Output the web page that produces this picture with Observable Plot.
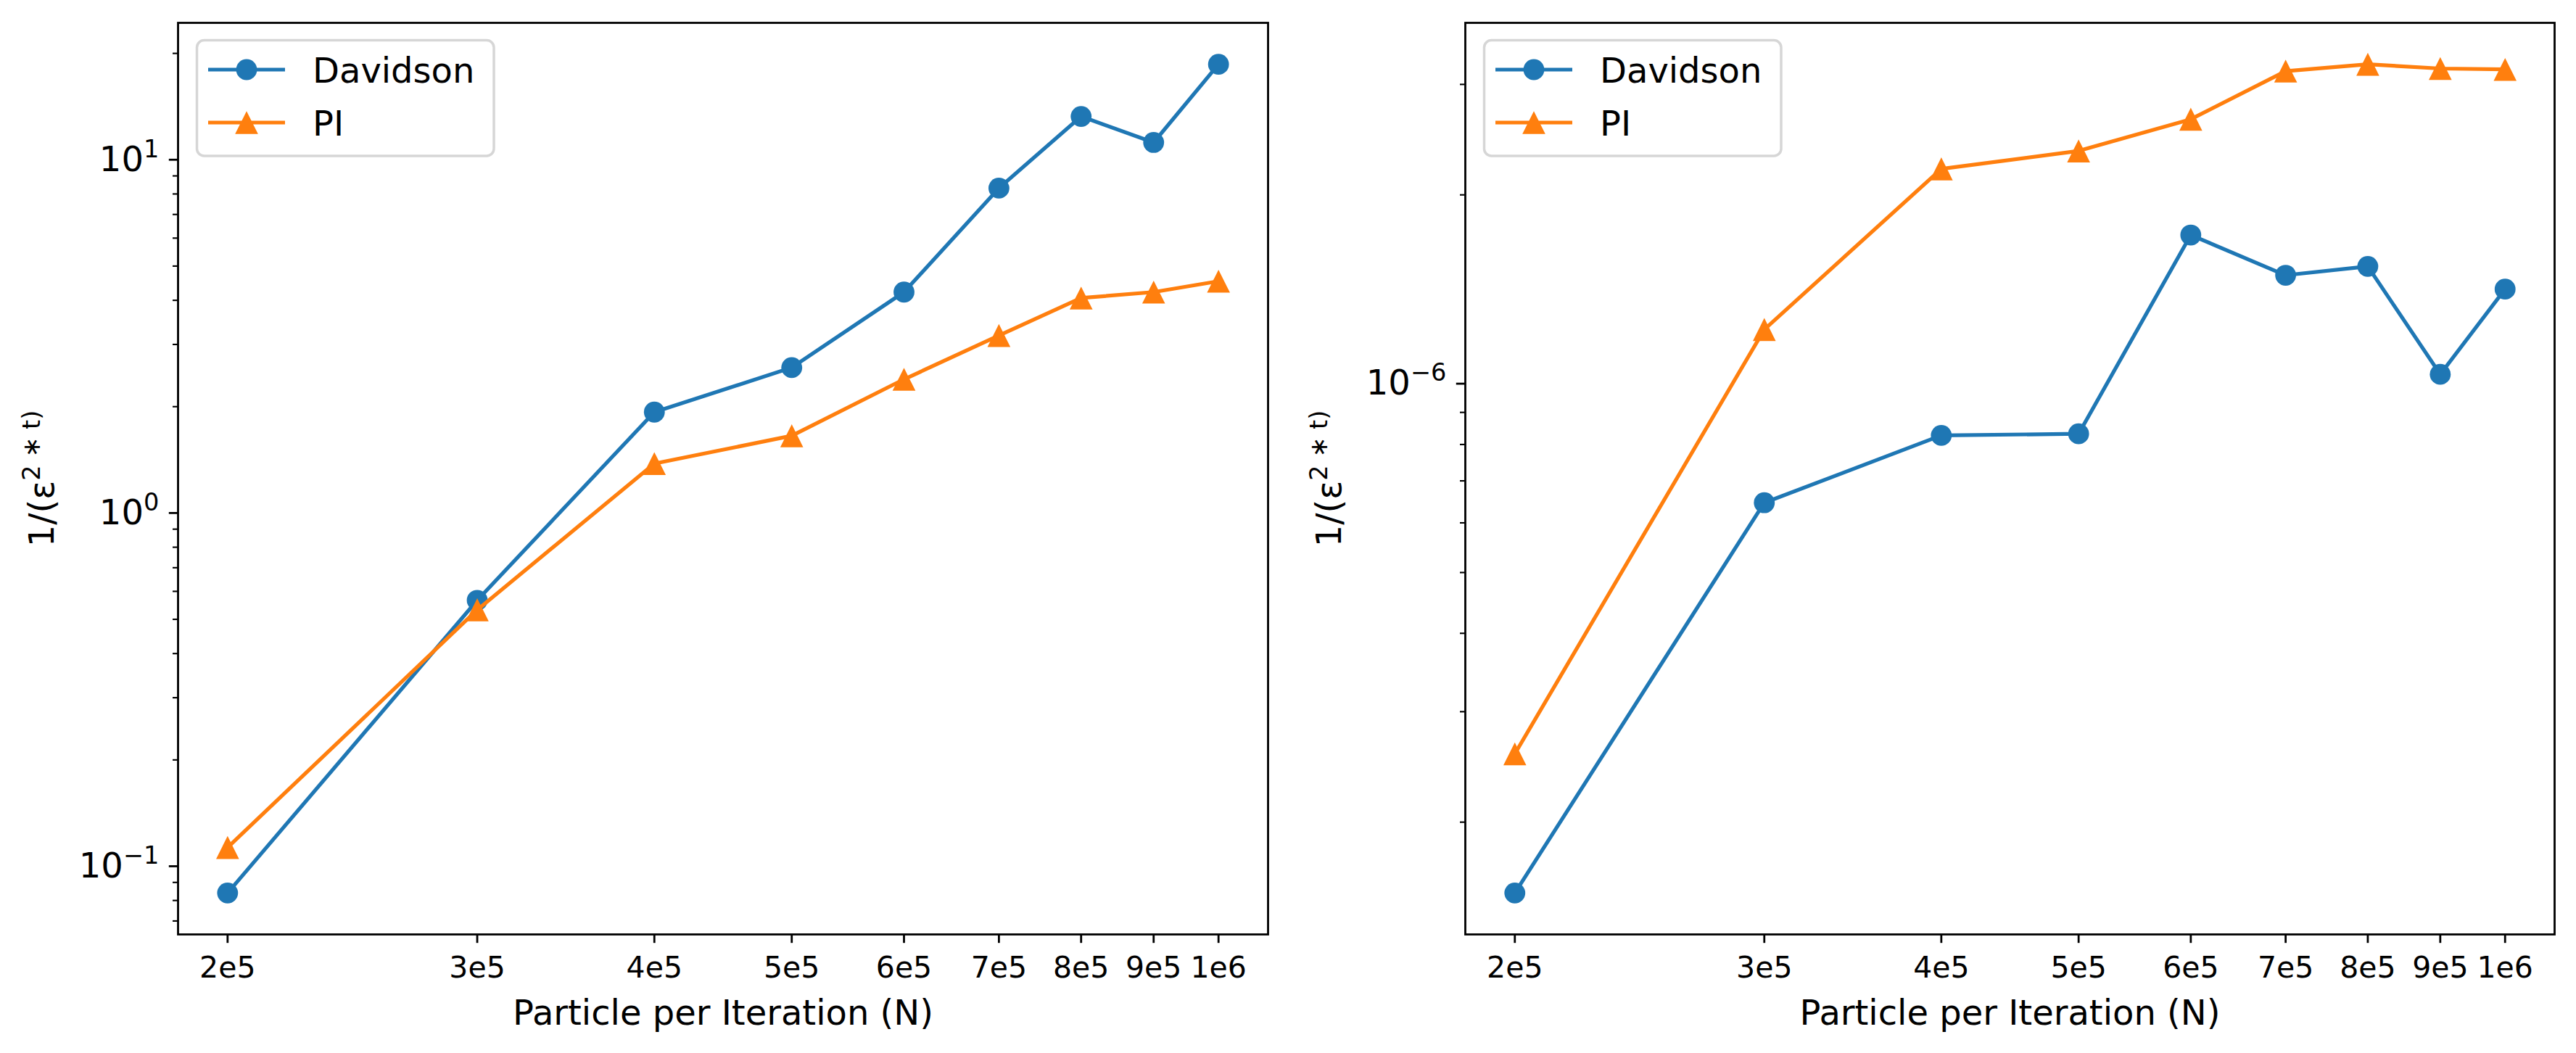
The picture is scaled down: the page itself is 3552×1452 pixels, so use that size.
<!DOCTYPE html>
<html>
<head>
<meta charset="utf-8">
<script src="https://cdn.jsdelivr.net/npm/d3@7"></script>
<script src="https://cdn.jsdelivr.net/npm/@observablehq/plot@0.6"></script>
<style>
  html, body { margin: 0; padding: 0; background: #fff; }
  #fig { display: flex; width: 3552px; height: 1452px; }
  .panel { position: relative; width: 1776px; height: 1452px; }
</style>
</head>
<body>
<div id="fig"></div>
<script>
// ---- data ----
const N = [200000, 300000, 400000, 500000, 600000, 700000, 800000, 900000, 1000000];
const xTickLabels = ["2e5", "3e5", "4e5", "5e5", "6e5", "7e5", "8e5", "9e5", "1e6"];

const davidsonLeft = [0.084, 0.566, 1.93, 2.58, 4.22, 8.31, 13.26, 11.19, 18.63];
const piLeft       = [0.113, 0.532, 1.38, 1.654, 2.39, 3.18, 4.06, 4.22, 4.53];

const davidsonRight = [1.542e-7, 6.46e-7, 8.27e-7, 8.32e-7, 1.726e-6, 1.489e-6, 1.538e-6, 1.035e-6, 1.415e-6];
const piRight       = [2.57e-7, 1.22e-6, 2.20e-6, 2.35e-6, 2.64e-6, 3.15e-6, 3.23e-6, 3.18e-6, 3.17e-6];

const seriesNames = ["Davidson", "PI"];
const seriesColors = ["#1f77b4", "#ff7f0e"];

const yMajorLeft = [0.1, 1, 10];
const yMajorLabelsLeft = ["10^-1", "10^0", "10^1"];
const yMajorRight = [1e-6];
const yMajorLabelsRight = ["10^-6"];

const xLabel = "Particle per Iteration (N)";
const yLabel = "1/(ε^2 ∗ t)";

// ---- helpers ----
function logPad(vals, f = 0.05) {
  const lo = Math.log10(d3.min(vals)), hi = Math.log10(d3.max(vals));
  const p = (hi - lo) * f;
  return [10 ** (lo - p), 10 ** (hi + p)];
}
function minorTicks([a, b]) {
  const out = [];
  for (let e = Math.floor(Math.log10(a)); e <= Math.ceil(Math.log10(b)); e++)
    for (let m = 2; m <= 9; m++) {
      const v = m * 10 ** e;
      if (v >= a && v <= b) out.push(v);
    }
  return out;
}
const triangle = {
  draw(ctx, size) {
    const r = Math.sqrt(size / Math.PI);
    ctx.moveTo(0, -r); ctx.lineTo(r, r); ctx.lineTo(-r, r); ctx.closePath();
  }
};
const FONT = "'DejaVu Sans', sans-serif";
const LW = 5.2, RC = 14.4, RT = 15.8;

function makePanel({dav, pi, yMajor, yLabels, mL, mR}) {
  const xDom = logPad(N);
  const yDom = logPad([...dav, ...pi]);
  const svg = Plot.plot({
    width: 1776, height: 1452,
    marginLeft: mL, marginRight: mR, marginTop: 31, marginBottom: 164,
    style: {fontFamily: FONT, background: "#fff", color: "#000", overflow: "visible"},
    x: {type: "log", domain: xDom},
    y: {type: "log", domain: yDom},
    marks: [
      Plot.axisX({ticks: N, tickFormat: d => xTickLabels[N.indexOf(d)], tickSize: 12.2, tickPadding: 18,
                  fontSize: 41, strokeWidth: 2.8, label: null}),
      Plot.axisY({ticks: minorTicks(yDom), tickFormat: () => "", tickSize: 7, strokeWidth: 2.1, label: null}),
      Plot.axisY({ticks: yMajor, tickFormat: d => yLabels[yMajor.indexOf(d)], tickSize: 12.2, tickPadding: 14,
                  fontSize: 48, strokeWidth: 2.8, label: null}),
      Plot.line(N, {x: d => d, y: (d, i) => dav[i], stroke: seriesColors[0], strokeWidth: LW}),
      Plot.dot(N, {x: d => d, y: (d, i) => dav[i], r: RC, fill: seriesColors[0], symbol: "circle"}),
      Plot.line(N, {x: d => d, y: (d, i) => pi[i], stroke: seriesColors[1], strokeWidth: LW}),
      Plot.dot(N, {x: d => d, y: (d, i) => pi[i], r: RT, fill: seriesColors[1], symbol: triangle}),
      Plot.text([xLabel], {frameAnchor: "bottom", text: d => d, lineAnchor: "bottom", dy: 124, fontSize: 48}),
      Plot.text([yLabel], {frameAnchor: "left", text: d => d, rotate: -90, lineAnchor: "bottom",
                           textAnchor: "middle", dx: -172, fontSize: 48, ariaLabel: "ylabel"}),
      Plot.frame({stroke: "#000", strokeWidth: 2.8})
    ]
  });

  const s = d3.select(svg);
  // superscripts in tick labels
  s.selectAll("text").each(function () {
    const t = d3.select(this);
    const txt = t.text();
    if (this.closest('g[aria-label="ylabel"]')) return;
    if (txt.includes("^")) {
      const [base, exp] = txt.split("^");
      t.text(base);
      t.append("tspan").attr("font-size", 33.6).attr("dy", -19).text(exp.replace("-", "\u2212"));
    }
  });
  // y label with math styling
  s.selectAll('g[aria-label="ylabel"] text').each(function () {
    const t = d3.select(this);
    t.text("");
    t.append("tspan").text("1/(");
    t.append("tspan").attr("font-style", "italic").text("ε");
    t.append("tspan").attr("font-size", 33.6).attr("dy", -19).text("2");
    t.append("tspan").attr("dy", 19).text(" ∗ ");
    t.append("tspan").attr("font-style", "italic").text("t");
    t.append("tspan").text(")");
  });

  // legend
  const lx = mL + 26.5, ly = 55.5;
  const g = s.append("g").attr("font-family", FONT).attr("font-size", 48).attr("text-anchor", "start");
  g.append("rect").attr("x", lx).attr("y", ly).attr("width", 409.5).attr("height", 159.5).attr("rx", 10)
    .attr("fill", "rgba(255,255,255,0.8)").attr("stroke", "#d6d6d6").attr("stroke-width", 3.5);
  const rowsY = [96, 169];
  const symbols = [d3.symbolCircle, triangle];
  const radii = [RC, RT];
  seriesNames.forEach((name, i) => {
    const y = rowsY[i];
    g.append("line").attr("x1", mL + 42).attr("x2", mL + 148).attr("y1", y).attr("y2", y)
      .attr("stroke", seriesColors[i]).attr("stroke-width", LW);
    g.append("path").attr("transform", `translate(${mL + 95},${y})`)
      .attr("d", d3.symbol(symbols[i], Math.PI * radii[i] ** 2)()).attr("fill", seriesColors[i]);
    g.append("text").attr("x", mL + 186).attr("y", y + 17.5).attr("fill", "#000")
      .attr("text-anchor", "start").text(name);
  });
  return svg;
}

const fig = document.getElementById("fig");
const p1 = document.createElement("div"); p1.className = "panel";
const p2 = document.createElement("div"); p2.className = "panel";
fig.append(p1, p2);
p1.append(makePanel({dav: davidsonLeft, pi: piLeft, yMajor: yMajorLeft, yLabels: yMajorLabelsLeft, mL: 245, mR: 28}));
p2.append(makePanel({dav: davidsonRight, pi: piRight, yMajor: yMajorRight, yLabels: yMajorLabelsRight, mL: 244, mR: 30}));
</script>
</body>
</html>
